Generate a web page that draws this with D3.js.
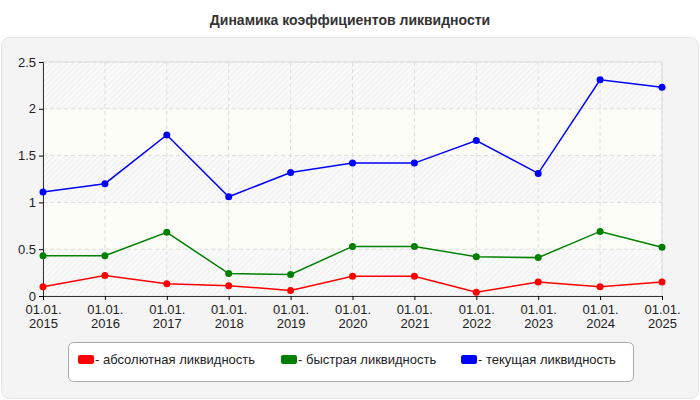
<!DOCTYPE html>
<html><head><meta charset="utf-8">
<script src="https://cdn.jsdelivr.net/npm/d3@7"></script>
<style>body{margin:0;background:#fff}text{font-family:"Liberation Sans",Arial,sans-serif}</style>
</head><body><svg width="700" height="400"></svg>
<script>
const dates = ["01.01.2015","01.01.2016","01.01.2017","01.01.2018","01.01.2019","01.01.2020","01.01.2021","01.01.2022","01.01.2023","01.01.2024","01.01.2025"];
const absolute = [0.10,0.22,0.13,0.11,0.06,0.21,0.21,0.04,0.15,0.10,0.15];
const quick = [0.43,0.43,0.68,0.24,0.23,0.53,0.53,0.42,0.41,0.69,0.52];
const current = [1.11,1.20,1.72,1.06,1.32,1.42,1.42,1.66,1.31,2.31,2.23];
const yTicks = [0,0.5,1,1.5,2,2.5];
const series = [
  {name:"- абсолютная ликвидность", color:"#ff0000", values:absolute},
  {name:"- быстрая ликвидность", color:"#008000", values:quick},
  {name:"- текущая ликвидность", color:"#0000ff", values:current}
];

const svg = d3.select("svg");
const defs = svg.append("defs");
const pat = defs.append("pattern").attr("id","hatch").attr("width",4).attr("height",4)
  .attr("patternUnits","userSpaceOnUse").attr("patternTransform","rotate(45)");
pat.append("rect").attr("width",4).attr("height",4).attr("fill","#fafafa");
pat.append("line").attr("x1",0).attr("y1",0).attr("x2",0).attr("y2",4).attr("stroke","#ececec").attr("stroke-width",1.5);

svg.append("text").attr("x",350).attr("y",25).attr("text-anchor","middle")
  .attr("font-size",14).attr("font-weight","bold").attr("fill","#333").text("Динамика коэффициентов ликвидности");
svg.append("rect").attr("x",1.5).attr("y",37.5).attr("width",697).attr("height",361).attr("rx",8)
  .attr("fill","#f4f4f4").attr("stroke","#e4e4e4");

const x = d3.scalePoint().domain(dates).range([43,662]);
const y = d3.scaleLinear().domain([0,2.5]).range([296,62]);

yTicks.slice(0,-1).forEach((t,i)=>{
  svg.append("rect").attr("x",43).attr("width",619).attr("y",y(t+0.5)).attr("height",y(t)-y(t+0.5))
    .attr("fill", i%2===0 ? "url(#hatch)" : "#fdfdf8");
});
svg.append("rect").attr("x",43).attr("y",62).attr("width",619).attr("height",234).attr("fill","none").attr("stroke","#ddd");

const grid = svg.append("g").attr("stroke","#dcdcdc").attr("stroke-dasharray","4,3");
yTicks.slice(1).forEach(t=>grid.append("line").attr("x1",43).attr("x2",662).attr("y1",y(t)).attr("y2",y(t)));
dates.slice(1).forEach(d=>grid.append("line").attr("x1",x(d)).attr("x2",x(d)).attr("y1",62).attr("y2",296));

const ya = svg.append("g").attr("transform","translate(43,0)")
  .call(d3.axisLeft(y).tickValues(yTicks).tickFormat(d3.format("")).tickSize(4));
ya.select(".domain").attr("stroke","#333");
ya.selectAll("text").attr("font-size",13).attr("fill","#222");
const xa = svg.append("g").attr("transform","translate(0,296)")
  .call(d3.axisBottom(x).tickSize(4).tickFormat(""));
xa.select(".domain").attr("stroke","#333");
xa.selectAll(".tick").each(function(d){
  const t = d3.select(this).append("text").attr("fill","#222").attr("font-size",13).attr("text-anchor","middle");
  t.append("tspan").attr("x",0).attr("y",18).text(d.slice(0,6));
  t.append("tspan").attr("x",0).attr("y",32).text(d.slice(6));
});

const line = d3.line().x((d,i)=>x(dates[i])).y(d=>y(d));
series.forEach(s=>{
  svg.append("path").attr("d",line(s.values)).attr("fill","none").attr("stroke",s.color).attr("stroke-width",1.5);
  svg.selectAll(null).data(s.values).enter().append("circle")
    .attr("cx",(d,i)=>x(dates[i])).attr("cy",d=>y(d)).attr("r",3.5).attr("fill",s.color);
});

const lg = svg.append("g");
lg.append("rect").attr("x",68.5).attr("y",342.5).attr("width",565).attr("height",39).attr("rx",5)
  .attr("fill","#fff").attr("stroke","#aaa");
const lx = [78,281,461];
series.forEach((s,i)=>{
  lg.append("rect").attr("x",lx[i]).attr("y",355).attr("width",16).attr("height",9).attr("rx",2).attr("fill",s.color);
  lg.append("text").attr("x",lx[i]+17).attr("y",364).attr("font-size",13).attr("fill","#222").text(s.name);
});
</script></body></html>
